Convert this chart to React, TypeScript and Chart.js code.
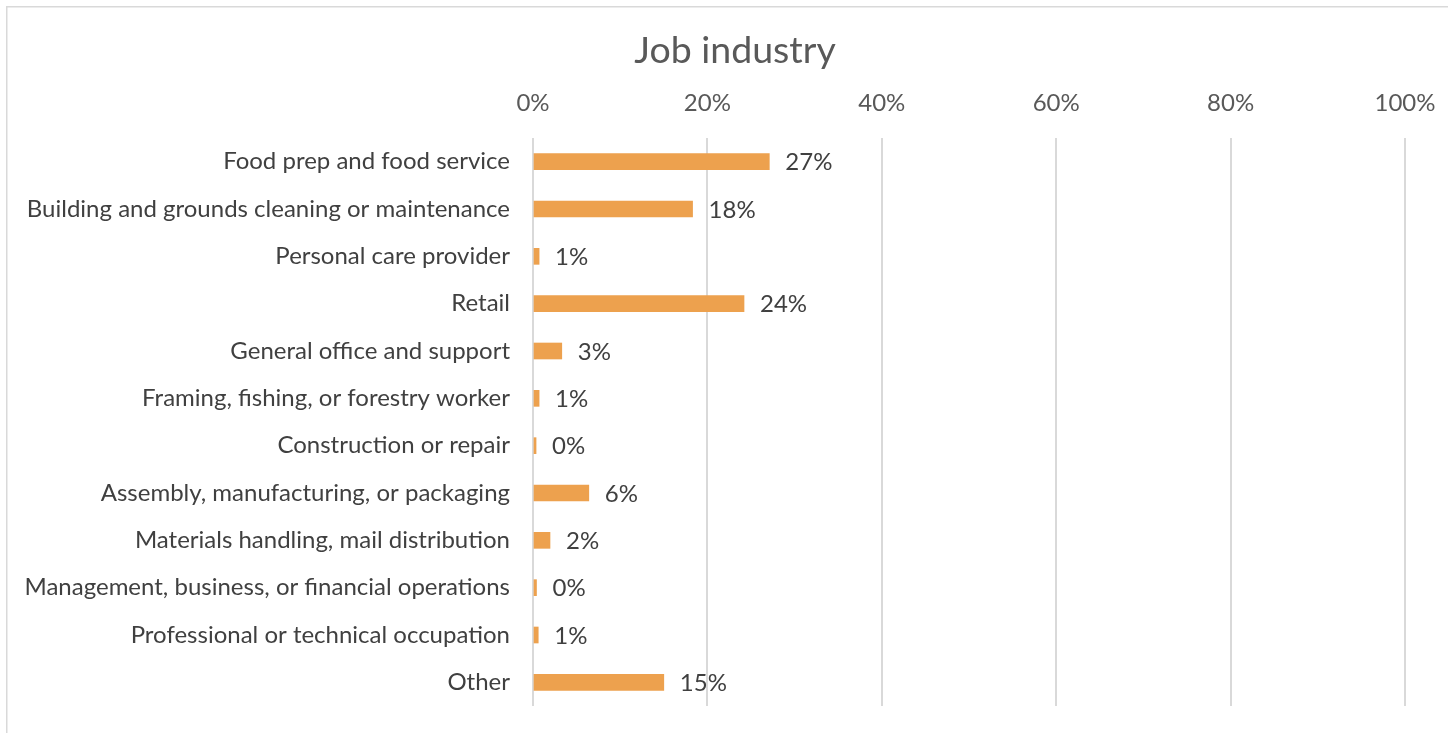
import React, { useEffect, useRef } from "react";
import { Chart, registerables } from "chart.js";

Chart.register(...registerables);

const categories = [
  "Food prep and food service",
  "Building and grounds cleaning or maintenance",
  "Personal care provider",
  "Retail",
  "General office and support",
  "Framing, fishing, or forestry worker",
  "Construction or repair",
  "Assembly, manufacturing, or packaging",
  "Materials handling, mail distribution",
  "Management, business, or financial operations",
  "Professional or technical occupation",
  "Other",
];

const values = [27.1, 18.3, 0.7, 24.2, 3.3, 0.7, 0.35, 6.4, 1.95, 0.4, 0.6, 15.0];
const valueLabels = ["27%", "18%", "1%", "24%", "3%", "1%", "0%", "6%", "2%", "0%", "1%", "15%"];
const xTicks = [0, 20, 40, 60, 80, 100];

const FONT = "Lato, 'Open Sans', sans-serif";

export default function App() {
  const ref = useRef<HTMLCanvasElement | null>(null);

  useEffect(() => {
    const canvas = ref.current;
    if (!canvas) return;

    const frame = {
      id: "frame",
      afterLayout(chart: any) {
        const tb = chart.titleBlock;
        if (tb) {
          tb.left = 65;
          tb.right = 1405;
        }
      },
      beforeDraw(chart: any) {
        const ctx = chart.ctx;
        ctx.save();
        ctx.fillStyle = "#ffffff";
        ctx.fillRect(0, 0, chart.width, chart.height);
        ctx.strokeStyle = "#d9d9d9";
        ctx.lineWidth = 1.5;
        ctx.beginPath();
        ctx.moveTo(6.75, chart.height);
        ctx.lineTo(6.75, 6.75);
        ctx.lineTo(chart.width, 6.75);
        ctx.stroke();
        ctx.restore();
      },
    };

    const dataLabels = {
      id: "dataLabels",
      afterDatasetsDraw(chart: any) {
        const ctx = chart.ctx;
        const meta = chart.getDatasetMeta(0);
        ctx.save();
        ctx.font = `24px ${FONT}`;
        ctx.fillStyle = "#404040";
        ctx.textAlign = "left";
        ctx.textBaseline = "middle";
        meta.data.forEach((bar: any, i: number) => {
          ctx.fillText(valueLabels[i], bar.x + 16, bar.y + 1);
        });
        ctx.restore();
      },
    };

    const chart = new Chart(canvas, {
      type: "bar",
      data: {
        labels: categories,
        datasets: [
          {
            data: values,
            backgroundColor: "#EDA14E",
            borderWidth: 0,
            barThickness: 16,
          },
        ],
      },
      options: {
        indexAxis: "y",
        responsive: false,
        animation: false,
        layout: { padding: { left: 0, right: 43, top: 0, bottom: 27 } },
        plugins: {
          legend: { display: false },
          tooltip: { enabled: false },
          title: {
            display: true,
            text: "Job industry",
            color: "#595959",
            font: { family: FONT, size: 37.5, weight: "normal" },
            padding: { top: 28, bottom: 0 },
          },
        },
        scales: {
          x: {
            position: "top",
            min: 0,
            max: 100,
            afterBuildTicks(scale: any) {
              scale.ticks = xTicks.map((v) => ({ value: v }));
            },
            afterFit(scale: any) {
              scale.height = 138 - (28 + 37.5 * 1.2);
              scale.paddingLeft = 0;
              scale.paddingRight = 0;
            },
            ticks: {
              callback: (v: any) => v + "%",
              color: "#595959",
              font: { family: FONT, size: 24 },
              padding: 20,
              maxRotation: 0,
            },
            grid: { color: "#d9d9d9", lineWidth: 2, drawTicks: false },
            border: { display: false },
          },
          y: {
            afterFit(scale: any) {
              scale.width = 533;
              scale.paddingTop = 0;
              scale.paddingBottom = 0;
            },
            ticks: {
              color: "#404040",
              font: { family: FONT, size: 24 },
              padding: 23,
              autoSkip: false,
            },
            grid: { display: false, drawTicks: false },
            border: { display: false },
          },
        },
      },
      plugins: [frame, dataLabels],
    });

    return () => chart.destroy();
  }, []);

  return (
    <div style={{ position: "absolute", left: 0, top: 0, width: 1448, height: 733 }}>
      <canvas ref={ref} width={1448} height={733} />
    </div>
  );
}
